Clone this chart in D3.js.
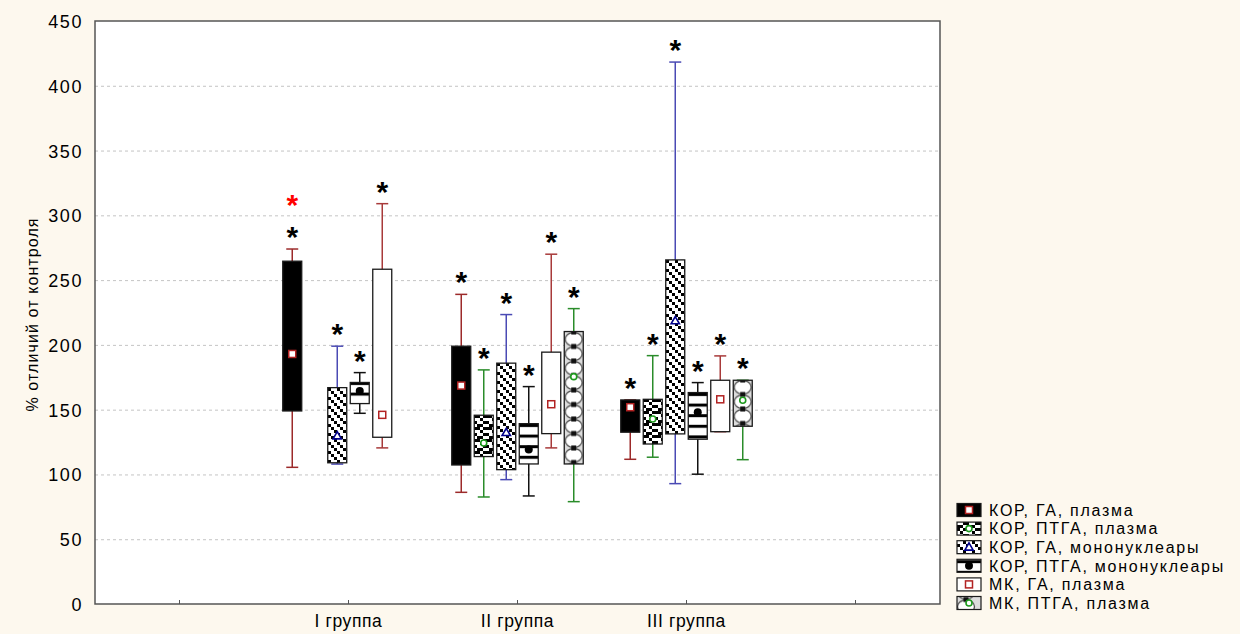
<!DOCTYPE html>
<html>
<head>
<meta charset="utf-8">
<script src="https://cdn.jsdelivr.net/npm/d3@7"></script>
<style>
  html, body { margin: 0; padding: 0; background: #fdf8ee; }
  svg { display: block; }
  text { font-family: "Liberation Sans", Arial, sans-serif; fill: #000; }
</style>
</head>
<body>
<svg id="chart" width="1240" height="634"></svg>
<script>
// ---- data -------------------------------------------------------------
const groups = ["I группа", "II группа", "III группа"];
const axisSlots = ["", "I группа", "II группа", "III группа", ""];
const seriesNames = [
  "КОР, ГА, плазма",
  "КОР, ПТГА, плазма",
  "КОР, ГА, мононуклеары",
  "КОР, ПТГА, мононуклеары",
  "МК, ГА, плазма",
  "МК, ПТГА, плазма"
];
// per group: [lower whisker, Q1, mean, Q3, upper whisker]; null = no data
const korGaPlasma   = [[105.5, 149, 193, 264.6, 274], [86.2, 107.3, 168.6, 199, 239], [111.7, 132.6, 151.9, 157.5, 157.5]];
const korPtgaPlasma = [null, [82.6, 113.8, 124.3, 145.7, 180.7], [113.3, 123.5, 142.8, 158, 191.7]];
const korGaMono     = [[108, 109, 129.7, 167, 199], [96, 103.7, 132.3, 185.9, 223.4], [92.9, 131.3, 218.5, 265.6, 418.3]];
const korPtgaMono   = [[147.2, 154.7, 164.5, 171, 178.6], [83.4, 108.1, 119.2, 139.2, 167.8], [100.2, 127.2, 148, 163.2, 170.9]];
const mkGaPlasma    = [[120.5, 128.7, 146, 258.4, 309], [120.5, 131.5, 154.2, 194.4, 270], [133, 133, 158, 172.7, 191.5]];
const mkPtgaPlasma  = [null, [79, 108.1, 175.5, 210.3, 228], [111.4, 137.2, 157.3, 172.7, 172.7]];
const yTicks = [0, 50, 100, 150, 200, 250, 300, 350, 400, 450];
// extra (red) significance marks: [series index, group index]
const redStars = [[0, 0]];

const seriesData = [korGaPlasma, korPtgaPlasma, korGaMono, korPtgaMono, mkGaPlasma, mkPtgaPlasma];

// ---- styles -----------------------------------------------------------
const seriesStyle = [
  { fill: "solid",   whisker: "#9c2a2a", marker: "square",   mColor: "#b22222", mFill: "#fff" },
  { fill: "checker", whisker: "#2a8c2a", marker: "circle",   mColor: "#1e9a1e", mFill: "#fff" },
  { fill: "hatch",   whisker: "#4a4ab4", marker: "triangle", mColor: "#00008b", mFill: "#fff" },
  { fill: "bands",   whisker: "#111",    marker: "dot",      mColor: "#000",    mFill: "#000" },
  { fill: "white",   whisker: "#a83a3a", marker: "square",   mColor: "#b22222", mFill: "#fff" },
  { fill: "rings",   whisker: "#2a8c2a", marker: "circle",   mColor: "#1e9a1e", mFill: "#fff" }
];

// ---- layout -----------------------------------------------------------
const W = 1240, H = 634;
const plot = { left: 95, right: 940, top: 21, bottom: 604 };

const svg = d3.select("#chart");
svg.append("rect").attr("width", W).attr("height", H).attr("fill", "#fdf8ee");
const defs = svg.append("defs");

const y = d3.scaleLinear().domain([0, 450]).range([plot.bottom, plot.top]);
const x = d3.scaleBand().domain(d3.range(axisSlots.length)).range([plot.left, plot.right]).padding(0);
const inner = d3.scaleBand().domain(d3.range(seriesNames.length))
  .range([-67.5, 67.5]).paddingInner(0.156).paddingOuter(0.078);
const bw = inner.bandwidth();
const capW = 12;

// plot background
svg.append("rect")
  .attr("x", plot.left).attr("y", plot.top)
  .attr("width", plot.right - plot.left).attr("height", plot.bottom - plot.top)
  .attr("fill", "#fff");

// grid lines
svg.append("g").selectAll("line")
  .data(yTicks.filter(t => t > 0 && t < 450))
  .join("line")
  .attr("x1", plot.left).attr("x2", plot.right)
  .attr("y1", d => y(d) + 0.5).attr("y2", d => y(d) + 0.5)
  .attr("stroke", "#c4c4c4").attr("stroke-width", 1).attr("stroke-dasharray", "3,3");

// y axis
const yAxis = d3.axisLeft(y).tickValues(yTicks).tickSize(0).tickPadding(12);
const gy = svg.append("g").attr("transform", `translate(${plot.left},0)`).call(yAxis);
gy.select(".domain").remove();
gy.selectAll("text")
  .style("font-size", "18px")
  .style("letter-spacing", "1.6px")
  .attr("dy", "0.36em");

// x axis labels and ticks
const xAxis = d3.axisBottom(x).tickFormat(i => axisSlots[i]).tickSize(0).tickPadding(10);
const gx = svg.append("g").attr("transform", `translate(0,${plot.bottom})`).call(xAxis);
gx.select(".domain").remove();
gx.selectAll("text").style("font-size", "17.5px").style("letter-spacing", "0.6px").attr("dy", "0.75em");
svg.append("g").selectAll("line")
  .data(d3.range(axisSlots.length))
  .join("line")
  .attr("x1", i => x(i) + x.bandwidth() / 2).attr("x2", i => x(i) + x.bandwidth() / 2)
  .attr("y1", plot.bottom).attr("y2", plot.bottom - 4)
  .attr("stroke", "#555").attr("stroke-width", 1);

// y axis title
svg.append("text")
  .attr("transform", `translate(38,${(plot.top + plot.bottom) / 2 + 2}) rotate(-90)`)
  .attr("text-anchor", "middle")
  .style("font-size", "16px")
  .style("letter-spacing", "1.1px")
  .text("% отличий от контроля");

// ---- fill patterns ----------------------------------------------------
let patId = 0;
function fillFor(kind, x0, y0, tileW) {
  if (kind === "solid") return "#000";
  if (kind === "white") return "#fff";
  const id = "p" + (patId++);
  const p = defs.append("pattern").attr("id", id).attr("patternUnits", "userSpaceOnUse")
    .attr("x", kind === "rings" ? x0 : Math.round(x0)).attr("y", Math.round(y0));
  if (kind === "checker") {
    p.attr("width", 12).attr("height", 12);
    p.append("rect").attr("width", 12).attr("height", 12).attr("fill", "#fff");
    const cells = [[0,0],[1,0],[3,0],[2,1],[0,2],[3,2],[1,3],[2,3]];
    cells.forEach(([cx, cy]) => p.append("rect")
      .attr("x", cx * 3).attr("y", cy * 3).attr("width", 3).attr("height", 3).attr("fill", "#000"));
  } else if (kind === "hatch") {
    p.attr("width", 9).attr("height", 9);
    p.append("rect").attr("width", 9).attr("height", 9).attr("fill", "#fff");
    [0, 3, 6].forEach(k => p.append("rect")
      .attr("x", k).attr("y", k).attr("width", 3).attr("height", 3).attr("fill", "#000"));
  } else if (kind === "bands") {
    p.attr("width", 10).attr("height", 10.6);
    p.append("rect").attr("width", 10).attr("height", 10.6).attr("fill", "#fff");
    p.append("rect").attr("y", 0).attr("width", 10).attr("height", 3).attr("fill", "#000");
  } else if (kind === "rings") {
    const tw = tileW, th = 14.5;
    p.attr("width", tw).attr("height", th);
    p.append("rect").attr("width", tw).attr("height", th).attr("fill", "#dcdcdc");
    p.append("ellipse").attr("cx", tw / 2).attr("cy", th / 2).attr("rx", Math.min(tw / 2 - 1, 8.5)).attr("ry", th / 2 - 0.5)
      .attr("fill", "#fff").attr("stroke", "#4a4a4a").attr("stroke-width", 1.3);
    [0, th].forEach(yy => p.append("rect")
      .attr("x", tw / 2 - 2.5).attr("y", yy - 2.5).attr("width", 5).attr("height", 5).attr("fill", "#111"));
  }
  return `url(#${id})`;
}

function drawMarker(g, st, cx, cy) {
  if (st.marker === "square") {
    g.append("rect").attr("x", cx - 3.5).attr("y", cy - 3.5).attr("width", 7).attr("height", 7)
      .attr("fill", st.mFill).attr("stroke", st.mColor).attr("stroke-width", 1.5);
  } else if (st.marker === "circle") {
    g.append("circle").attr("cx", cx).attr("cy", cy).attr("r", 3)
      .attr("fill", st.mFill).attr("stroke", st.mColor).attr("stroke-width", 1.6);
  } else if (st.marker === "triangle") {
    g.append("path").attr("d", d3.symbol(d3.symbolTriangle, 30)())
      .attr("transform", `translate(${cx},${cy + 0.5})`)
      .attr("fill", st.mFill).attr("stroke", st.mColor).attr("stroke-width", 1.6);
  } else if (st.marker === "dot") {
    g.append("circle").attr("cx", cx).attr("cy", cy).attr("r", 4).attr("fill", st.mFill);
  }
}

function star(parent, cx, cyCenter, color) {
  parent.append("text").attr("x", cx).attr("y", cyCenter + 17)
    .attr("text-anchor", "middle")
    .style("font-size", "30px").style("font-weight", "bold")
    .style("fill", color).text("*");
}

// ---- boxes ------------------------------------------------------------
const boxes = svg.append("g");
groups.forEach((gName, gi) => {
  const gc = x(gi + 1) + x.bandwidth() / 2;
  seriesData.forEach((ser, si) => {
    const d = ser[gi];
    if (!d) return;
    const [lo, q1, mean, q3, hi] = d;
    const st = seriesStyle[si];
    const left = gc + inner(si);
    const cx = left + bw / 2;
    const g = boxes.append("g");
    // whisker
    g.append("line").attr("x1", cx).attr("x2", cx).attr("y1", y(hi)).attr("y2", y(lo))
      .attr("stroke", st.whisker).attr("stroke-width", 1.5);
    [lo, hi].forEach(v => g.append("line")
      .attr("x1", cx - capW / 2).attr("x2", cx + capW / 2)
      .attr("y1", y(v)).attr("y2", y(v))
      .attr("stroke", st.whisker).attr("stroke-width", 1.5));
    // box
    g.append("rect").attr("x", left).attr("y", y(q3)).attr("width", bw).attr("height", y(q1) - y(q3))
      .attr("fill", fillFor(st.fill, left, y(q3), bw))
      .attr("stroke", "#1a1a1a").attr("stroke-width", 1.3);
    drawMarker(g, st, cx, y(mean));
    // significance mark
    star(g, cx, y(hi) - 19, "#000");
  });
});
redStars.forEach(([si, gi]) => {
  const d = seriesData[si][gi];
  const cx = x(gi + 1) + x.bandwidth() / 2 + inner(si) + bw / 2;
  star(svg, cx, y(d[4]) - 51, "#ff0000");
});

// plot frame
svg.append("rect")
  .attr("x", plot.left).attr("y", plot.top)
  .attr("width", plot.right - plot.left).attr("height", plot.bottom - plot.top)
  .attr("fill", "none").attr("stroke", "#555").attr("stroke-width", 1.5);

// ---- legend -----------------------------------------------------------
const legend = svg.append("g").attr("transform", "translate(957,510)");
seriesNames.forEach((name, si) => {
  const st = seriesStyle[si];
  const ly = si * 18.6;
  const row = legend.append("g");
  row.append("rect").attr("x", 0).attr("y", ly - 6.5).attr("width", 24).attr("height", 13)
    .attr("fill", fillFor(st.fill, 957, 510 + ly - 6.5, 24))
    .attr("stroke", "#1a1a1a").attr("stroke-width", 1.2);
  drawMarker(row, st, 12, ly);
  row.append("text").attr("x", 32).attr("y", ly).attr("dy", "0.36em")
    .style("font-size", "16px").style("letter-spacing", "1.75px").text(name);
});
</script>
</body>
</html>
